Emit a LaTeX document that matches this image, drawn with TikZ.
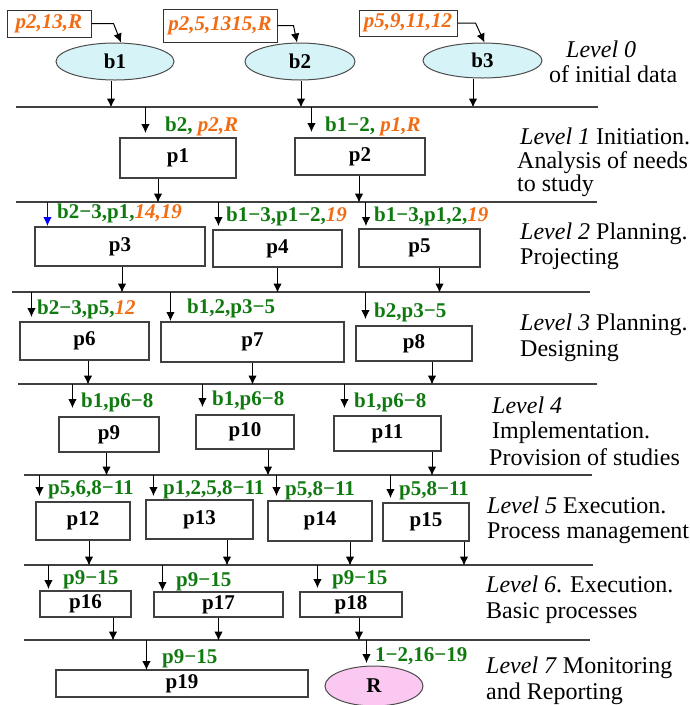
\documentclass[tikz,border=0pt]{standalone}
\usepackage{fontspec}
\newfontfamily\tms{Liberation Serif}
\usepackage{tikz}
\usetikzlibrary{arrows.meta,shapes.geometric}

\definecolor{lgreen}{RGB}{16,122,16}
\definecolor{lorange}{RGB}{242,108,20}
\definecolor{bfill}{RGB}{214,243,247}
\definecolor{rfill}{RGB}{250,200,240}
\newcommand{\og}[1]{\textcolor{lorange}{\textit{#1}}}

\begin{document}
\begin{tikzpicture}[x=1pt,y=-1pt,
   proc/.style={draw=black!75,line width=1.1pt,fill=white,inner sep=0pt,
      font={\tms\fontsize{21}{23}\selectfont\bfseries}},
   data/.style={ellipse,draw=black!70,line width=1pt,fill=bfill,inner sep=0pt,
      font={\tms\fontsize{21}{23}\selectfont\bfseries}},
   note/.style={draw=black!80,line width=1pt,fill=white,inner sep=0pt,text=lorange,
      font={\tms\fontsize{21}{23}\selectfont\bfseries\itshape}},
   lab/.style={anchor=base west,inner sep=0pt,text=lgreen,
      font={\tms\fontsize{21}{23}\selectfont\bfseries}},
   lvl/.style={anchor=base west,inner sep=0pt,font={\tms\fontsize{24}{26}\selectfont}},
   level/.style={draw=black!75,line width=1.1pt},
   arr/.style={-{Latex[length=9pt,width=8.5pt]},line width=1pt}]

   \useasboundingbox (0,0) rectangle (689,705);

   % level 0
   \node[note,minimum width=84pt,minimum height=27pt] (n1) at (49,23.5) {p2,13,R};
   \node[note,minimum width=114pt,minimum height=33pt] (n2) at (220,25.5) {p2,5,1315,R};
   \node[note,minimum width=98pt,minimum height=26pt] (n3) at (408,23) {p5,9,11,12};
   \node[data,minimum width=118pt,minimum height=37pt] (b1) at (115,61.5) {b1};
   \node[data,minimum width=110pt,minimum height=37pt] (b2) at (300,61.5) {b2};
   \node[data,minimum width=119pt,minimum height=35pt] (b3) at (482.5,60.5) {b3};
   \draw[arr] (n1.east) -- ++(22,0) -- ([xshift=6pt]b1.north);
   \draw[arr] (n2.east) -- ++(16,0) -- ([xshift=-3pt]b2.north);
   \draw[arr] (n3.east) -- ++(18,0) -- ([xshift=2pt]b3.north);
   \draw[arr] ([xshift=-4pt]b1.south) -- ++(0,27);
   \draw[arr] ([xshift=1pt]b2.south) -- ++(0,27);
   \draw[arr] ([xshift=-9.5pt]b3.south) -- ++(0,29);
   \node[lvl] (v0a) at (566,57) {\textit{Level 0}};
   \node[lvl] (v0b) at (549,82) {of initial data};

   \coordinate (l0w) at (16,107); \coordinate (l0e) at (598,107);
   \coordinate (l1w) at (16,202); \coordinate (l1e) at (597,202);
   \coordinate (l2w) at (12,292); \coordinate (l2e) at (590,292);
   \coordinate (l3w) at (18,384); \coordinate (l3e) at (597,384);
   \coordinate (l4w) at (24,475); \coordinate (l4e) at (592,475);
   \coordinate (l5w) at (24,565); \coordinate (l5e) at (593,565);
   \coordinate (l6w) at (24,640); \coordinate (l6e) at (590,640);
   \draw[level] (l0w) -- (l0e);
   \draw[level] (l1w) -- (l1e);
   \draw[level] (l2w) -- (l2e);
   \draw[level] (l3w) -- (l3e);
   \draw[level] (l4w) -- (l4e);
   \draw[level] (l5w) -- (l5e);
   \draw[level] (l6w) -- (l6e);

   % level 1
   \node[proc,minimum width=116pt,minimum height=40pt] (p1) at (178,158) {p1};
   \node[proc,minimum width=130pt,minimum height=37pt] (p2) at (360,156.5) {p2};
   \draw[arr] (p1.north west |- l0w) ++(26,0) -- ++(0,26);
   \draw[arr] (p2.north west |- l0w) ++(17,0) -- ++(0,25);
   \node[lab] (t1) at (165,131) {b2, \og{p2,R}};
   \node[lab] (t2) at (325,131) {b1−2, \og{p1,R}};
   \draw[arr] ([xshift=-20pt]p1.south) -- ++(0,24);
   \draw[arr] ([xshift=-1pt]p2.south) -- ++(0,27);
   \node[lvl] (v1a) at (520,144) {\textit{Level 1} Initiation.};
   \node[lvl] (v1b) at (517,168) {Analysis of needs};
   \node[lvl] (v1c) at (517,191) {to study};

   % level 2
   \node[proc,minimum width=170pt,minimum height=39pt] (p3) at (120,246.5) {p3};
   \node[proc,minimum width=129pt,minimum height=37pt] (p4) at (277.5,248.5) {p4};
   \node[proc,minimum width=121pt,minimum height=38pt] (p5) at (419.5,248) {p5};
   \draw[arr,blue] (p3.north west |- l1w) ++(13,0) -- ++(0,24);
   \draw[arr] (p4.north west |- l1w) ++(6,0) -- ++(0,24);
   \draw[arr] (p5.north west |- l1w) ++(7.5,0) -- ++(0,24);
   \node[lab] (t3) at (57,218) {b2−3,p1,\og{14,19}};
   \node[lab] (t4) at (226,221) {b1−3,p1−2,\og{19}};
   \node[lab] (t5) at (374,221) {b1−3,p1,2,\og{19}};
   \draw[arr] ([xshift=2pt]p3.south) -- ++(0,26);
   \draw[arr] (p4.south) -- ++(0,25);
   \draw[arr] ([xshift=20pt]p5.south) -- ++(0,25);
   \node[lvl] (v2a) at (520,239) {\textit{Level 2} Planning.};
   \node[lvl] (v2b) at (520,264) {Projecting};

   % level 3
   \node[proc,minimum width=129pt,minimum height=38pt] (p6) at (84.5,341) {p6};
   \node[proc,minimum width=183pt,minimum height=40pt] (p7) at (252.5,342) {p7};
   \node[proc,minimum width=116pt,minimum height=35pt] (p8) at (414,343.5) {p8};
   \draw[arr] (p6.north west |- l2w) ++(12,0) -- ++(0,25);
   \draw[arr] (p7.north west |- l2w) ++(10,0) -- ++(0,29);
   \draw[arr] (p8.north west |- l2w) ++(10,0) -- ++(0,27);
   \node[lab] (t6) at (37,314) {b2−3,p5,\og{12}};
   \node[lab] (t7) at (187,313) {b1,2,p3−5};
   \node[lab] (t8) at (374,317) {b2,p3−5};
   \draw[arr] ([xshift=3.5pt]p6.south) -- ++(0,24);
   \draw[arr] (p7.south) -- ++(0,22);
   \draw[arr] ([xshift=18pt]p8.south) -- ++(0,23);
   \node[lvl] (v3a) at (520,330) {\textit{Level 3} Planning.};
   \node[lvl] (v3b) at (520,356) {Designing};

   % level 4
   \node[proc,minimum width=100pt,minimum height=35pt] (p9) at (109,434.5) {p9};
   \node[proc,minimum width=98pt,minimum height=34pt] (p10) at (245,432) {p10};
   \node[proc,minimum width=107pt,minimum height=35pt] (p11) at (387.5,433.5) {p11};
   \draw[arr] (p9.north west |- l3w) ++(14,0) -- ++(0,24);
   \draw[arr] (p10.north west |- l3w) ++(7,0) -- ++(0,23);
   \draw[arr] (p11.north west |- l3w) ++(11,0) -- ++(0,24);
   \node[lab] (t9) at (81,407) {b1,p6−8};
   \node[lab] (t10) at (212,405) {b1,p6−8};
   \node[lab] (t11) at (354,407) {b1,p6−8};
   \draw[arr] ([xshift=-2.5pt]p9.south) -- ++(0,23);
   \draw[arr] ([xshift=23pt]p10.south) -- ++(0,26);
   \draw[arr] ([xshift=44.5pt]p11.south) -- ++(0,24);
   \node[lvl] (v4a) at (492,413) {\textit{Level 4}};
   \node[lvl] (v4b) at (492,438) {Implementation.};
   \node[lvl] (v4c) at (489,465) {Provision of studies};

   % level 5
   \node[proc,minimum width=94pt,minimum height=38pt] (p12) at (83,521) {p12};
   \node[proc,minimum width=107pt,minimum height=39pt] (p13) at (199.5,519.5) {p13};
   \node[proc,minimum width=104pt,minimum height=40pt] (p14) at (320,521) {p14};
   \node[proc,minimum width=86pt,minimum height=38pt] (p15) at (426,522) {p15};
   \draw[arr] (p12.north west |- l4w) ++(4,0) -- ++(0,21);
   \draw[arr] (p13.north west |- l4w) ++(8,0) -- ++(0,21);
   \draw[arr] (p14.north west |- l4w) ++(9,0) -- ++(0,21);
   \draw[arr] (p15.north west |- l4w) ++(8,0) -- ++(0,23);
   \node[lab] (t12) at (48,494) {p5,6,8−11};
   \node[lab] (t13) at (163,494) {p1,2,5,8−11};
   \node[lab] (t14) at (285,495) {p5,8−11};
   \node[lab] (t15) at (399,495) {p5,8−11};
   \draw[arr] ([xshift=6pt]p12.south) -- ++(0,25);
   \draw[arr] ([xshift=27.5pt]p13.south) -- ++(0,26);
   \draw[arr] ([xshift=30pt]p14.south) -- ++(0,24);
   \draw[arr] ([xshift=38pt]p15.south) -- ++(0,24);
   \node[lvl] (v5a) at (487,513) {\textit{Level 5} Execution.};
   \node[lvl] (v5b) at (487,538) {Process management};

   % level 6
   \node[proc,minimum width=91pt,minimum height=26pt] (p16) at (85.5,604) {p16};
   \node[proc,minimum width=129pt,minimum height=25pt] (p17) at (218.5,604.5) {p17};
   \node[proc,minimum width=102pt,minimum height=25pt] (p18) at (351,604.5) {p18};
   \draw[arr] (p16.north west |- l5w) ++(9,0) -- ++(0,24);
   \draw[arr] (p17.north west |- l5w) ++(9,0) -- ++(0,26);
   \draw[arr] (p18.north west |- l5w) ++(18,0) -- ++(0,23);
   \node[lab] (t16) at (63,584) {p9−15};
   \node[lab] (t17) at (176,586) {p9−15};
   \node[lab] (t18) at (332,584) {p9−15};
   \draw[arr] ([xshift=27.5pt]p16.south) -- ++(0,23);
   \draw[arr] (p17.south) -- ++(0,23);
   \draw[arr] ([xshift=8pt]p18.south) -- ++(0,23);
   \node[lvl] (v6a) at (486,592) {\textit{Level 6}. Execution.};
   \node[lvl] (v6b) at (486,618) {Basic processes};

   % level 7
   \node[proc,minimum width=252pt,minimum height=27pt] (p19) at (182,683.5) {p19};
   \node[data,fill=rfill,minimum width=98pt,minimum height=40pt] (R) at (374,686) {R};
   \draw[arr] (p19.north west |- l6w) ++(91,0) -- ++(0,30);
   \draw[arr] (R.west |- l6w) ++(42,0) -- ++(0,23);
   \node[lab] (t19) at (162,663) {p9−15};
   \node[lab] (t20) at (375,661) {1−2,16−19};
   \node[lvl] (v7a) at (486,673) {\textit{Level 7} Monitoring};
   \node[lvl] (v7b) at (486,699) {and Reporting};

\end{tikzpicture}
\end{document}
